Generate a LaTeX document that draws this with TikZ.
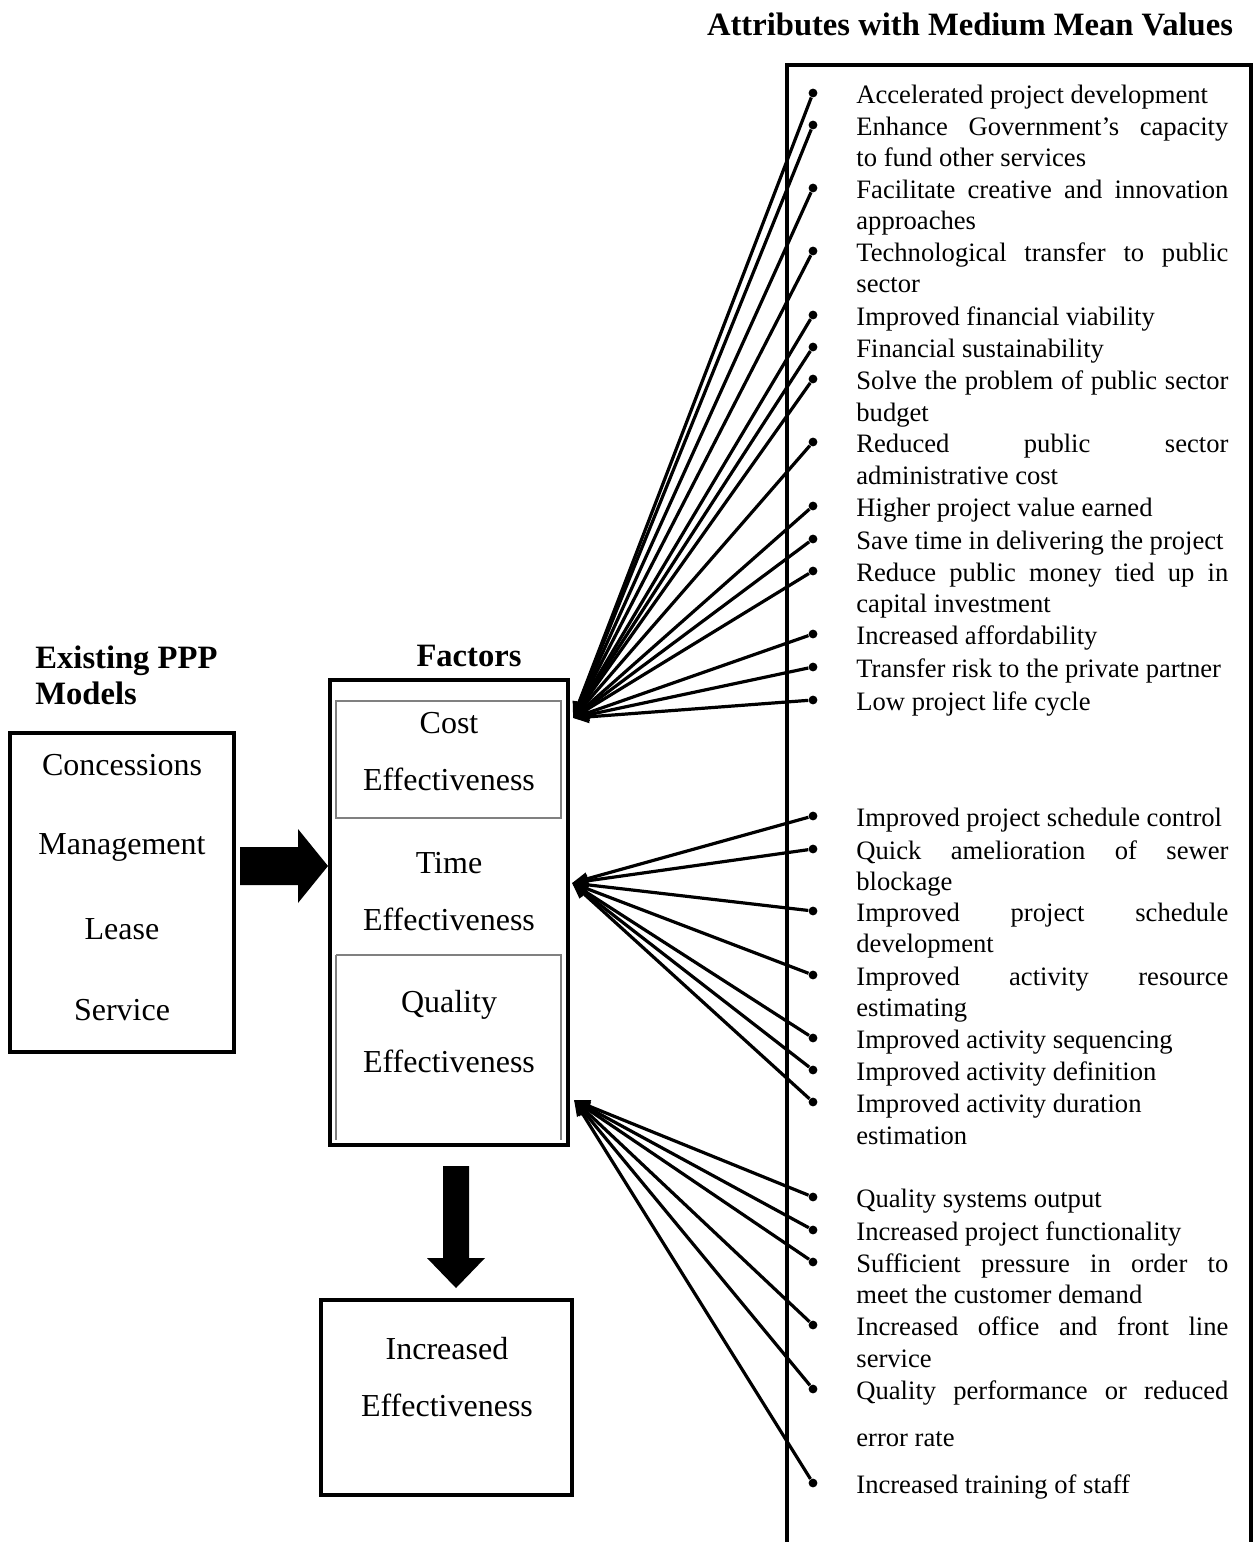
\documentclass[tikz,border=0pt]{standalone}
\usepackage{fontspec}
\setmainfont{Liberation Serif}
\usetikzlibrary{arrows.meta}
\newcommand\lsttxt{\fontsize{13.3}{16}\selectfont}
\newcommand\bigtxt{\fontsize{16}{19}\selectfont}
\newcommand\hdtxt{\fontsize{16.3}{19}\selectfont}
\newcommand\jl[1]{\makebox[186pt][s]{#1}}
\begin{document}
\begin{tikzpicture}[x=0.5pt,y=-0.5pt,
  heavybox/.style={draw,line width=2pt},
  innerbox/.style={draw=gray,line width=0.9pt},
  head/.style={font=\hdtxt\bfseries,inner sep=0pt},
  btxt/.style={font=\bigtxt,inner sep=0pt},
  item/.style={font=\lsttxt,inner sep=0pt,anchor=base west},
  dot/.style={circle,fill,inner sep=0pt,minimum size=4.4pt},
  conn/.style={line width=1.6pt,-{Triangle[length=8pt,width=6pt]}},
  blockarrow/.style={fill=black,draw=none}]
\useasboundingbox (0,0) rectangle (1256,1542);
% headers
\node[head] (hattr) at (970,24) {Attributes with Medium Mean Values};
\node[head,anchor=west] (hppp1) at (35,661) {Existing PPP};
\node[head,anchor=west] (hppp2) at (35,693) {Models};
\node[head] (hfac) at (469,656) {Factors};
% left box
\draw[heavybox] (10,733) rectangle (234,1052);
\node[btxt] (m1) at (122,765) {Concessions};
\node[btxt] (m2) at (122,847) {Management};
\node[btxt] (m3) at (122,929) {Lease};
\node[btxt] (m4) at (122,1010) {Service};
% block arrow right
\fill[blockarrow] (240,847) -- (298,847) -- (298,829) -- (328,866) -- (298,903) -- (298,885) -- (240,885) -- cycle;
% factors box
\draw[heavybox] (330,680) rectangle (568,1145);
\draw[innerbox] (336,701) rectangle (561,818);
\draw[innerbox] (336,955) -- (561,955) -- (561,1140);
\draw[innerbox] (336,955) -- (336,1140);
\node[btxt] (f1) at (449,723) {Cost};
\node[btxt] (f2) at (449,779) {Effectiveness};
\node[btxt] (f3) at (449,863) {Time};
\node[btxt] (f4) at (449,919) {Effectiveness};
\node[btxt] (f5) at (449,1005) {Quality};
\node[btxt] (f6) at (449,1061) {Effectiveness};
\coordinate (tipC) at (573,718);
\coordinate (tipT) at (572,883);
\coordinate (tipQ) at (574,1100);
% down block arrow
\fill[blockarrow] (443,1166) -- (469,1166) -- (469,1258) -- (485,1258) -- (456,1288) -- (427,1258) -- (443,1258) -- cycle;
% result box
\draw[heavybox] (321,1300) rectangle (572,1495);
\node[btxt] (r1) at (447,1349) {Increased};
\node[btxt] (r2) at (447,1405) {Effectiveness};
% attributes box (open at bottom)
\draw[line width=2pt] (787,1545) -- (787,65) -- (1251,65) -- (1251,1545);
% items
\node[item] (t1) at (856,103) {Accelerated project development};
\node[item] (t2) at (856,135) {\jl{Enhance Government’s capacity}};
\node[item] (t2b) at (856,166) {to fund other services};
\node[item] (t3) at (856,198) {\jl{Facilitate creative and innovation}};
\node[item] (t3b) at (856,229) {approaches};
\node[item] (t4) at (856,261) {\jl{Technological transfer to public}};
\node[item] (t4b) at (856,292) {sector};
\node[item] (t5) at (856,325) {Improved financial viability};
\node[item] (t6) at (856,357) {Financial sustainability};
\node[item] (t7) at (856,389) {\jl{Solve the problem of public sector}};
\node[item] (t7b) at (856,421) {budget};
\node[item] (t8) at (856,452) {\jl{Reduced public sector}};
\node[item] (t8b) at (856,484) {administrative cost};
\node[item] (t9) at (856,516) {Higher project value earned};
\node[item] (t10) at (856,549) {Save time in delivering the project};
\node[item] (t11) at (856,581) {\jl{Reduce public money tied up in}};
\node[item] (t11b) at (856,612) {capital investment};
\node[item] (t12) at (856,644) {Increased affordability};
\node[item] (t13) at (856,677) {Transfer risk to the private partner};
\node[item] (t14) at (856,710) {Low project life cycle};
\node[item] (t15) at (856,826) {Improved project schedule control};
\node[item] (t16) at (856,859) {\jl{Quick amelioration of sewer}};
\node[item] (t16b) at (856,890) {blockage};
\node[item] (t17) at (856,921) {\jl{Improved project schedule}};
\node[item] (t17b) at (856,952) {development};
\node[item] (t18) at (856,985) {\jl{Improved activity resource}};
\node[item] (t18b) at (856,1016) {estimating};
\node[item] (t19) at (856,1048) {Improved activity sequencing};
\node[item] (t20) at (856,1080) {Improved activity definition};
\node[item] (t21) at (856,1112) {Improved activity duration};
\node[item] (t21b) at (856,1144) {estimation};
\node[item] (t22) at (856,1207) {Quality systems output};
\node[item] (t23) at (856,1240) {Increased project functionality};
\node[item] (t24) at (856,1272) {\jl{Sufficient pressure in order to}};
\node[item] (t24b) at (856,1303) {meet the customer demand};
\node[item] (t25) at (856,1335) {\jl{Increased office and front line}};
\node[item] (t25b) at (856,1367) {service};
\node[item] (t26) at (856,1399) {\jl{Quality performance or reduced}};
\node[item] (t26b) at (856,1446) {error rate};
\node[item] (t27) at (856,1493) {Increased training of staff};
% bullets and connectors
\foreach \n/\y/\t in {1/93/C,2/125/C,3/188/C,4/251/C,5/315/C,6/347/C,7/379/C,8/442/C,9/506/C,10/539/C,11/571/C,12/634/C,13/667/C,14/700/C,
  15/816/T,16/849/T,17/911/T,18/975/T,19/1038/T,20/1070/T,21/1102/T,
  22/1197/Q,23/1230/Q,24/1262/Q,25/1325/Q,26/1389/Q,27/1483/Q}{
  \node[dot] (b\n) at (813,\y) {};
  \draw[conn] (b\n) -- (tip\t);
}
\end{tikzpicture}
\end{document}
